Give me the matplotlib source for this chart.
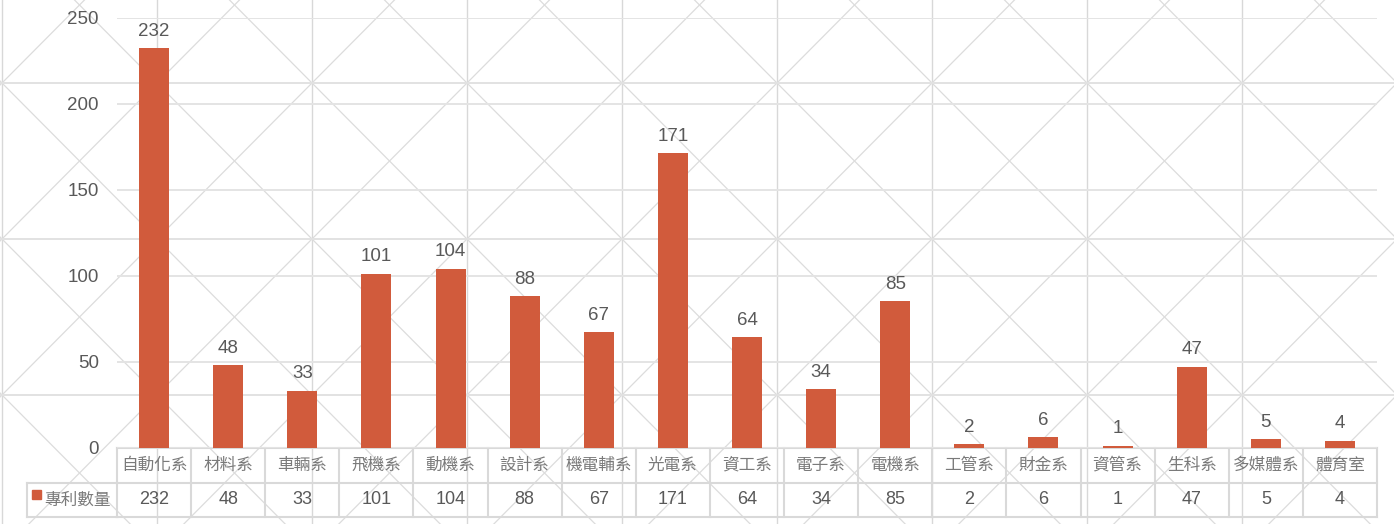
import numpy as np
import matplotlib.pyplot as plt
import matplotlib.transforms as mtransforms

departments = ['自動化系', '材料系', '車輛系', '飛機系', '動機系', '設計系', '機電輔系',
               '光電系', '資工系', '電子系', '電機系', '工管系', '財金系', '資管系',
               '生科系', '多媒體系', '體育室']
patents = [232, 48, 33, 101, 104, 88, 67, 171, 64, 34, 85, 2, 6, 1, 47, 5, 4]
series_name = '專利數量'
y_ticks = [0, 50, 100, 150, 200, 250]

W, H = 1394, 524
bar_color = '#d15b3c'
text_dark = '#595959'
text_light = '#7a7a7a'
line_grey = '#d9d9d9'
num_font = ['Liberation Sans', 'Noto Sans CJK TC']
cjk_font = ['Noto Sans CJK TC', 'DejaVu Sans']

fig = plt.figure(figsize=(W / 100, H / 100), dpi=100)
fig.patch.set_facecolor('white')

# pixel-space layer for the page pattern and the data table
pix = fig.add_axes([0, 0, 1, 1], zorder=0)
pix.set_xlim(0, W)
pix.set_ylim(H, 0)
pix.axis('off')

cw, ch = 155, 156
x0, y0 = 2, 83
for gx in np.arange(x0 - cw, W + cw, cw):
    pix.axvline(gx, color='#d8d8d8', lw=1.0)
    for gy in np.arange(y0 - ch, H + ch, ch):
        pix.plot([gx, gx + cw], [gy, gy + ch], color='#dcdcdc', lw=0.9)
        pix.plot([gx, gx + cw], [gy + ch, gy], color='#dcdcdc', lw=0.9)
for gy in np.arange(y0, H, ch):
    pix.axhline(gy, color='#e2e2e2', lw=1.4)

ax = fig.add_axes([117 / W, (H - 447.5) / H, (1377 - 117) / W, (447.5 - 17.5) / H],
                  zorder=1)
ax.patch.set_alpha(0)
x = np.arange(len(departments))
ax.bar(x, patents, width=0.405, color=bar_color, zorder=3)
for xi, v in zip(x, patents):
    ax.annotate(str(v), (xi, v), xytext=(0, 6), textcoords='offset points',
                ha='center', va='bottom', fontsize=13.5, color=text_dark,
                family=num_font)

ax.set_xlim(-0.5, len(departments) - 0.5)
ax.set_ylim(0, 250)
ax.set_yticks(y_ticks)
ax.set_yticklabels([str(t) for t in y_ticks], family=num_font, fontsize=13.5,
                   color=text_dark)
ax.tick_params(axis='y', length=0, pad=13)
ax.set_xticks([])
ax.grid(axis='y', color='#e4e4e4', lw=1.4, zorder=0)
ax.set_axisbelow(True)
for s in ax.spines.values():
    s.set_visible(False)

# data table under the bars: x in category units, y in pixels
tr = mtransforms.blended_transform_factory(ax.transData, pix.transData)
row_top, row_mid, row_bot = 447.5, 483, 517
n = len(departments)
lkw = dict(color=line_grey, lw=1.5, transform=tr, clip_on=False)
for b in np.arange(n + 1) - 0.5:
    pix.plot([b, b], [row_top, row_bot], **lkw)
for yy in (row_top, row_mid, row_bot):
    pix.plot([-0.5, n - 0.5], [yy, yy], **lkw)
for i, (d, v) in enumerate(zip(departments, patents)):
    pix.text(i, (row_top + row_mid) / 2, d, transform=tr, ha='center', va='center',
             fontsize=12, color=text_light, family=cjk_font)
    pix.text(i, (row_mid + row_bot) / 2, str(v), transform=tr, ha='center',
             va='center', fontsize=13, color=text_dark, family=num_font)

# legend cell at the left of the value row
pix.plot([27, 117], [row_mid, row_mid], color=line_grey, lw=1.5)
pix.plot([27, 117], [row_bot, row_bot], color=line_grey, lw=1.5)
pix.plot([27, 27], [row_mid, row_bot], color=line_grey, lw=1.5)
pix.add_patch(plt.Rectangle((32, 490), 9, 9, color=bar_color))
pix.text(44, (row_mid + row_bot) / 2, series_name, ha='left', va='center',
         fontsize=12, color=text_light, family=cjk_font)

fig.savefig('out.png', dpi=100, facecolor='white')
